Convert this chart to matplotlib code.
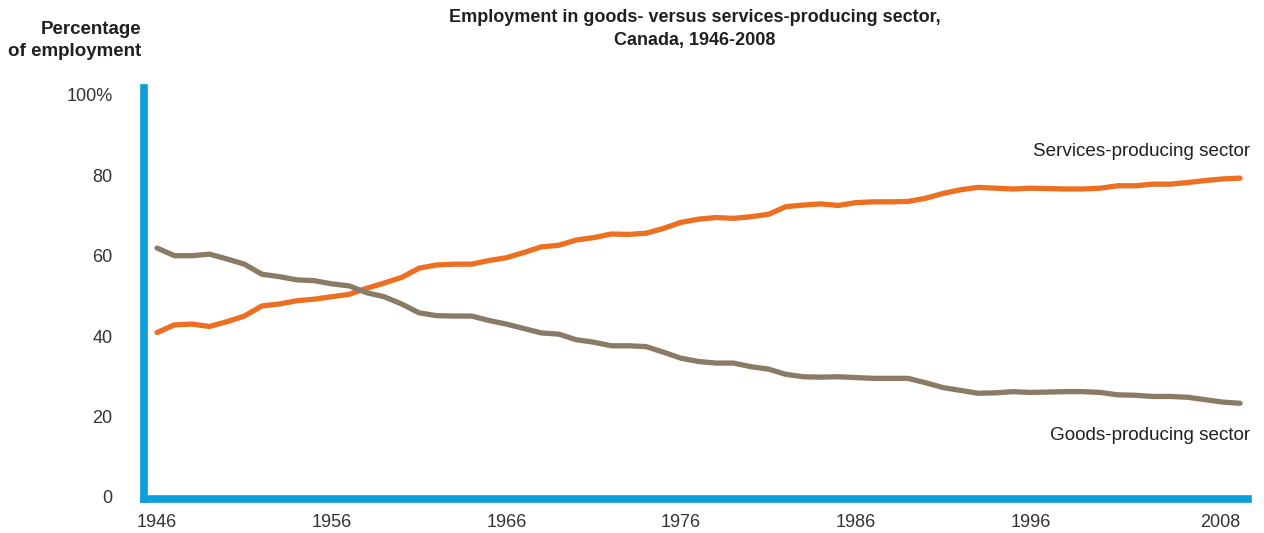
import numpy as np
import matplotlib
matplotlib.use("Agg")
import matplotlib.pyplot as plt

plt.rcParams['font.family'] = ['Liberation Sans', 'DejaVu Sans']

# Anteile in Prozent, jaehrlich 1946-2008
years = list(range(1946, 2009))

services = [40.9, 42.8, 43.0, 42.4, 43.6, 45.0, 47.5, 48.0, 48.8, 49.2,
            49.8, 50.4, 51.9, 53.2, 54.6, 56.9, 57.7, 57.9, 57.9, 58.8,
            59.5, 60.8, 62.2, 62.6, 63.9, 64.5, 65.4, 65.3, 65.6, 66.8,
            68.3, 69.1, 69.5, 69.3, 69.7, 70.3, 72.2, 72.6, 72.9, 72.5,
            73.2, 73.4, 73.4, 73.5, 74.3, 75.5, 76.4, 77.0, 76.8, 76.6,
            76.8, 76.7, 76.6, 76.6, 76.8, 77.4, 77.4, 77.8, 77.8, 78.2,
            78.7, 79.1, 79.3]

goods = [61.9, 60.0, 60.0, 60.4, 59.2, 57.9, 55.4, 54.8, 54.0, 53.8,
         53.0, 52.5, 50.8, 49.8, 48.0, 45.8, 45.1, 45.0, 45.0, 43.9,
         43.0, 41.9, 40.8, 40.5, 39.1, 38.5, 37.6, 37.6, 37.4, 36.0,
         34.5, 33.7, 33.3, 33.3, 32.4, 31.8, 30.5, 29.9, 29.8, 29.9,
         29.7, 29.5, 29.5, 29.5, 28.4, 27.2, 26.5, 25.8, 25.9, 26.2,
         26.0, 26.1, 26.2, 26.2, 26.0, 25.4, 25.3, 25.0, 25.0, 24.8,
         24.2, 23.6, 23.3]

xticks = [1946, 1956, 1966, 1976, 1986, 1996, 2008]
yticks = [0, 20, 40, 60, 80, 100]
ylabels = ['0', '20', '40', '60', '80', '100%']

blue = '#0a9edb'
orange = '#ec6f22'
brown = '#8b7a66'
dark = '#231f20'

fig = plt.figure(figsize=(12.64, 5.33), dpi=100)
ax = fig.add_axes([0.1143, 0.0638, 0.873, 0.771])

ax.plot(years, services, color=orange, linewidth=3.8, solid_capstyle='round')
ax.plot(years, goods, color=brown, linewidth=3.8, solid_capstyle='round')

ax.set_xlim(1945.28, 2008.45)
ax.set_ylim(-0.5, 101.7)

for s in ['top', 'right']:
    ax.spines[s].set_visible(False)
for s in ['left', 'bottom']:
    ax.spines[s].set_color(blue)
    ax.spines[s].set_linewidth(5.5)
    ax.spines[s].set_capstyle('projecting')

ax.set_xticks(xticks)
ax.set_yticks(yticks)
ax.set_yticklabels(ylabels)
ax.tick_params(axis='both', length=0, labelsize=13, labelcolor='#333333')
ax.tick_params(axis='y', pad=23)
ax.tick_params(axis='x', pad=11)
# letzte Jahreszahl sitzt im Original etwas weiter links
ax.get_xticklabels()[-1].set_horizontalalignment('right')
ax.get_xticklabels()[-1].set_x(2008.4)

fig.text(141 / 1264, 1 - 30 / 533, 'Percentage', ha='right', va='center',
         fontsize=13.5, fontweight='bold', color=dark)
fig.text(141 / 1264, 1 - 52 / 533, 'of employment', ha='right', va='center',
         fontsize=13.5, fontweight='bold', color=dark)

fig.text(695 / 1264, 1 - 18 / 533, 'Employment in goods- versus services-producing sector,',
         ha='center', va='center', fontsize=13, fontweight='bold', color=dark)
fig.text(695 / 1264, 1 - 40 / 533, 'Canada, 1946-2008',
         ha='center', va='center', fontsize=13, fontweight='bold', color=dark)

fig.text(1250 / 1264, 1 - 152 / 533, 'Services-producing sector', ha='right',
         va='center', fontsize=13.6, color=dark)
fig.text(1250 / 1264, 1 - 435 / 533, 'Goods-producing sector', ha='right',
         va='center', fontsize=13.6, color=dark)

fig.savefig('out.png', dpi=100)
